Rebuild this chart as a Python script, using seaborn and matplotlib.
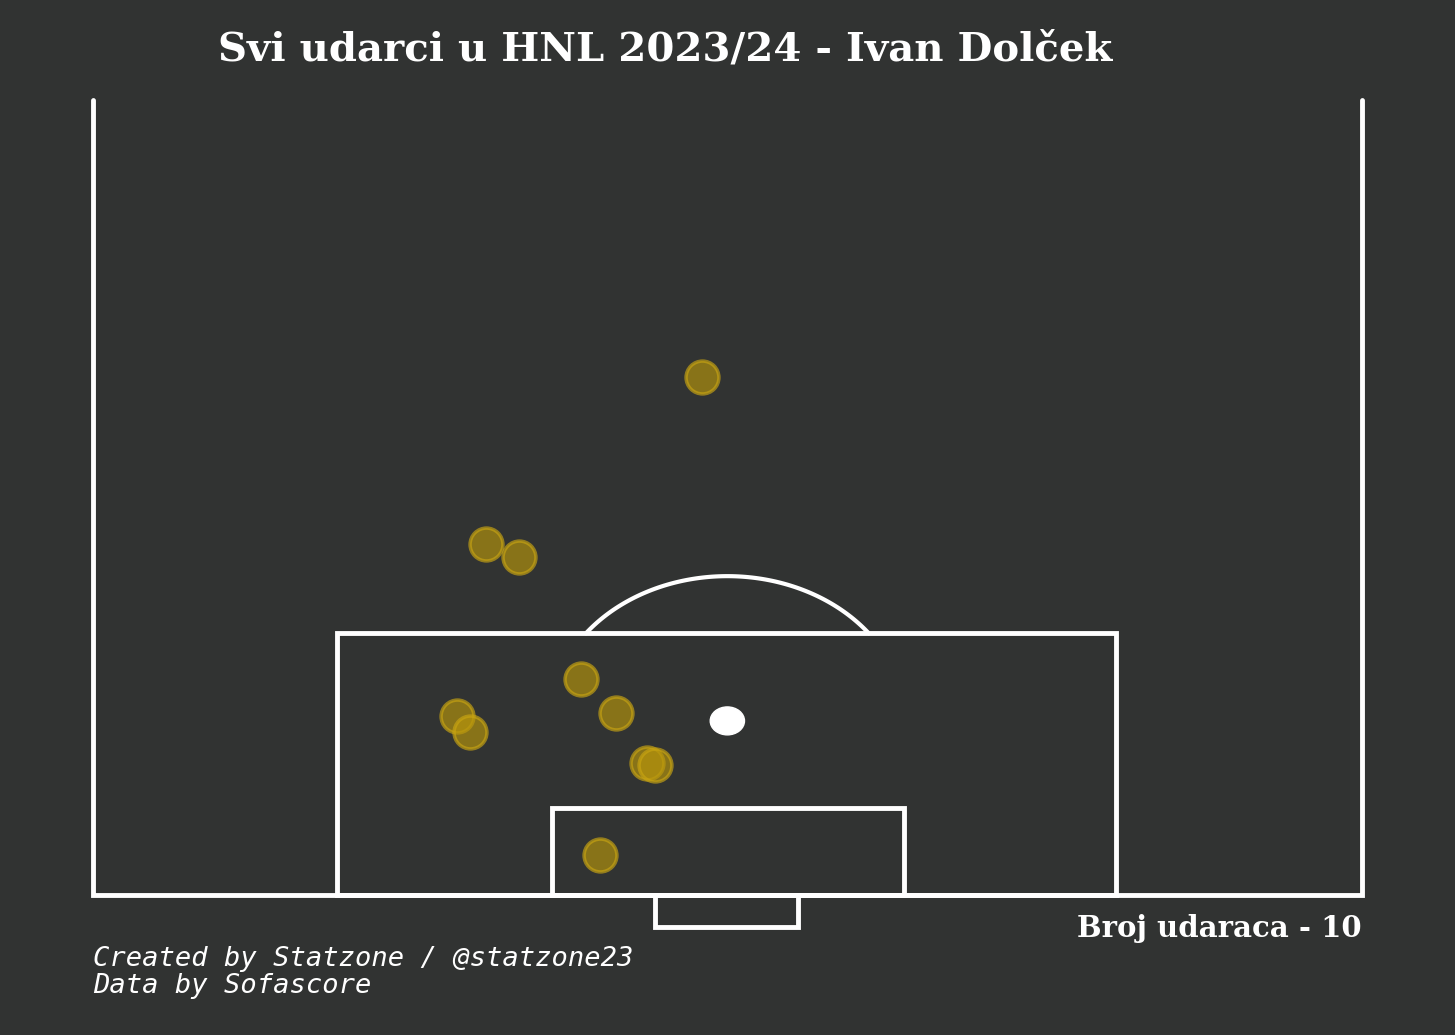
import matplotlib
matplotlib.use("Agg")
import matplotlib.pyplot as plt
import seaborn as sns
import pandas as pd
import numpy as np
from matplotlib.patches import Rectangle, Ellipse

# shot locations: x across pitch (0-100), y distance from goal line (same units)
shot_x = [48.0, 31.0, 33.6, 38.5, 28.7, 29.7, 41.2, 43.7, 44.3, 40.0]
shot_y = [40.8, 27.6, 26.6, 17.0, 14.1, 12.8, 14.3, 10.4, 10.2, 3.15]
title = "Svi udarci u HNL 2023/24 - Ivan Dolček"
count_label = "Broj udaraca - " + str(len(shot_x))
footer = "Created by Statzone / @statzone23\nData by Sofascore"

bg = "#313332"
sns.set_style("dark", {"axes.facecolor": bg, "figure.facecolor": bg})
fig = plt.figure(figsize=(14.55, 10.35), dpi=100)
fig.patch.set_facecolor(bg)
ax = fig.add_axes([0.0639, 0.0986, 0.872, 0.8097])
ax.set_facecolor(bg)
ax.set_xlim(0, 100)
ax.set_ylim(-3, 63)
ax.axis("off")

lw = 3.5
kw = dict(fill=False, ec="white", lw=lw, clip_on=False, zorder=2)
ax.plot([0, 0, 100, 100], [62.6, 0, 0, 62.6], color="white", lw=lw, clip_on=False,
        solid_joinstyle="miter", zorder=2)
ax.add_patch(Rectangle((19.2, 0), 61.4, 20.6, **kw))
ax.add_patch(Rectangle((36.2, 0), 27.7, 6.86, **kw))
ax.add_patch(Rectangle((44.3, -2.5), 11.3, 2.5, **kw))
ax.add_patch(Ellipse((50, 13.7), 2.7, 2.2, color="white", zorder=2))
t = np.radians(np.linspace(37.2, 142.8, 100))
ax.plot(50 + 14.0 * np.cos(t), 13.7 + 11.4 * np.sin(t), color="white", lw=3, zorder=2)

df = pd.DataFrame({"x": shot_x, "y": shot_y})
sns.scatterplot(data=df, x="x", y="y", ax=ax, s=560, color="#b8960b", alpha=0.65,
                edgecolor="#c9a512", linewidth=2.5, zorder=3, legend=False)
ax.set_xlabel(""); ax.set_ylabel("")

fig.text(0.457, 0.952, title, ha="center", va="center", color="white",
         fontsize=29, fontweight="bold", family="DejaVu Serif")
fig.text(0.936, 0.103, count_label, ha="right", va="center", color="white",
         fontsize=21, fontweight="bold", family="DejaVu Serif")
fig.text(0.064, 0.06, footer, ha="left", va="center", color="white",
         fontsize=19.5, style="italic", family="DejaVu Sans Mono", linespacing=1.05)
fig.savefig("out.png", dpi=100, facecolor=bg)
